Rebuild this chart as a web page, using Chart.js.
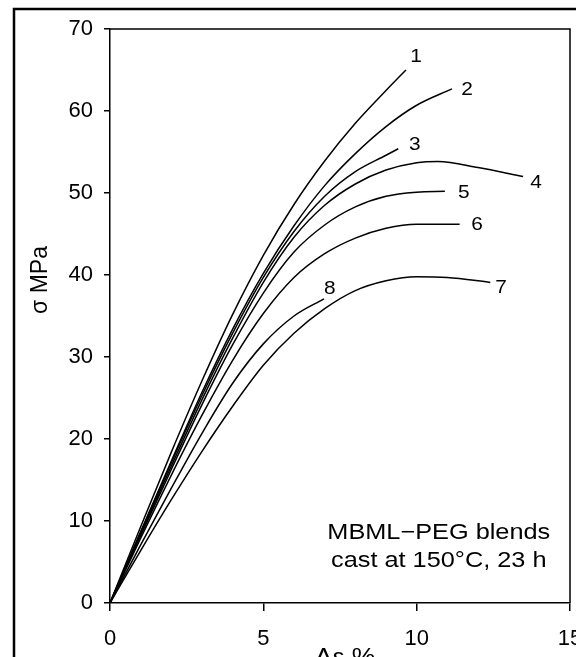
<!DOCTYPE html>
<html>
<head>
<meta charset="utf-8">
<script src="https://cdn.jsdelivr.net/npm/chart.js@4.4.1/dist/chart.umd.min.js"></script>
<style>
html,body{margin:0;padding:0;background:#fff;overflow:hidden;width:576px;height:657px}
#wrap{position:absolute;left:0;top:0;width:620px;height:700px}
</style>
</head>
<body>
<div id="wrap"><canvas id="c" width="620" height="700"></canvas></div>
<script>
// ---- data (strain %, stress MPa) ----
const strain1 = [0, 1, 2, 3, 4, 5, 6, 7, 8, 9, 9.65];
const stress1 = [0, 9.3, 18.4, 27.1, 35.2, 42.4, 48.6, 53.9, 58.5, 62.5, 65.0];
const strain2 = [0, 1, 2, 3, 4, 5, 6, 7, 8, 9, 10, 11.15];
const stress2 = [0, 8.7, 17.3, 25.7, 33.4, 40.2, 46.0, 50.9, 54.8, 58.1, 60.7, 62.7];
const strain3 = [0, 1, 2, 3, 4, 5, 6, 7, 8, 9, 9.4];
const stress3 = [0, 8.6, 17.1, 25.3, 32.9, 39.7, 45.3, 49.6, 52.6, 54.6, 55.4];
const strain4 = [0, 1, 2, 3, 4, 5, 6, 7, 8, 9, 10, 10.7, 12, 13.47];
const stress4 = [0, 8.4, 16.7, 24.8, 32.3, 39.1, 44.6, 48.5, 51.1, 52.8, 53.7, 53.85, 53.1, 52.0];
const strain5 = [0, 1, 2, 3, 4, 5, 6, 7, 8, 9, 10, 10.92];
const stress5 = [0, 8.2, 16.3, 24.2, 31.5, 37.8, 42.8, 46.1, 48.3, 49.6, 50.1, 50.2];
const strain6 = [0, 1, 2, 3, 4, 5, 6, 7, 8, 9, 10, 11.4];
const stress6 = [0, 7.9, 15.6, 22.9, 29.6, 35.3, 39.7, 42.6, 44.5, 45.7, 46.2, 46.2];
const strain7 = [0, 1, 2, 3, 4, 5, 6, 7, 8, 9, 10, 11, 12.4];
const stress7 = [0, 6.4, 12.6, 18.5, 24.0, 29.0, 32.9, 35.9, 38.1, 39.3, 39.8, 39.7, 39.1];
const strain8 = [0, 1, 2, 3, 4, 5, 6, 6.98];
const stress8 = [0, 7.1, 14.0, 20.7, 26.8, 31.6, 35.0, 37.1];

const curveNames = ['1', '2', '3', '4', '5', '6', '7', '8'];
const xTickValues = [0, 5, 10, 15];
const yTickValues = [0, 10, 20, 30, 40, 50, 60, 70];
const xTitle = 'Δε %';
const yTitle = 'σ MPa';
const noteLines = ['MBML\u2212PEG blends', 'cast at 150\u00B0C, 23 h'];

// ---- layout / styling (kept apart from the data) ----
const FONT = "'Liberation Sans', Arial, Helvetica, sans-serif";
const curveLabelAnchors = [[9.98, 66.6], [11.64, 62.6], [9.94, 55.85], [13.89, 51.2],
                           [11.54, 50.0], [11.97, 46.1], [12.75, 38.4], [7.17, 38.3]];
const noteAnchor = {x: 10.72, y1: 7.8, y2: 4.4};

const strains = [strain1, strain2, strain3, strain4, strain5, strain6, strain7, strain8];
const stresses = [stress1, stress2, stress3, stress4, stress5, stress6, stress7, stress8];

const datasets = curveNames.map((name, i) => ({
  label: 'Curve ' + name,
  data: strains[i].map((x, j) => ({x: x, y: stresses[i][j]})),
  showLine: true,
  borderColor: '#000',
  borderWidth: 1.5,
  pointRadius: 0,
  fill: false,
  cubicInterpolationMode: 'monotone'
}));

function stretchedText(ctx, txt, x, y, size, sx, align, baseline) {
  ctx.save();
  ctx.font = size + 'px ' + FONT;
  ctx.textAlign = align;
  ctx.textBaseline = baseline;
  ctx.translate(x, y);
  ctx.scale(sx, 1);
  ctx.fillText(txt, 0, 0);
  ctx.restore();
}

const decor = {
  id: 'decor',
  afterDraw(chart) {
    const ctx = chart.ctx;
    const a = chart.chartArea;
    const xs = chart.scales.x, ys = chart.scales.y;
    ctx.save();
    // plot box (top and right sides)
    ctx.strokeStyle = '#000';
    ctx.lineWidth = 1.5;
    ctx.beginPath();
    ctx.moveTo(a.left, a.top);
    ctx.lineTo(a.right, a.top);
    ctx.lineTo(a.right, a.bottom);
    ctx.stroke();
    // outer frame
    ctx.lineWidth = 2.5;
    ctx.strokeRect(14, 9, 700, 800);
    ctx.fillStyle = '#000';
    // curve labels
    curveNames.forEach((n, i) => {
      const p = curveLabelAnchors[i];
      stretchedText(ctx, n, xs.getPixelForValue(p[0]), ys.getPixelForValue(p[1]), 19, 1.1, 'center', 'middle');
    });
    // note text
    const nx = xs.getPixelForValue(noteAnchor.x);
    stretchedText(ctx, noteLines[0], nx, ys.getPixelForValue(noteAnchor.y1), 22, 1.15, 'center', 'alphabetic');
    stretchedText(ctx, noteLines[1], nx, ys.getPixelForValue(noteAnchor.y2), 22, 1.15, 'center', 'alphabetic');
    // y title
    ctx.save();
    ctx.translate(41, 280);
    ctx.rotate(-Math.PI / 2);
    ctx.font = '23px ' + FONT;
    ctx.textAlign = 'center';
    ctx.textBaseline = 'middle';
    ctx.fillText(yTitle, 0, 0);
    ctx.restore();
    // x title (cut off at the bottom like the reference)
    stretchedText(ctx, xTitle, (a.left + a.right) / 2 + 5, 665, 23, 1.15, 'center', 'alphabetic');
    ctx.restore();
  }
};

new Chart(document.getElementById('c'), {
  type: 'scatter',
  data: {datasets: datasets},
  options: {
    responsive: false,
    animation: false,
    devicePixelRatio: 1,
    layout: {padding: {left: 0, top: 29, right: 50, bottom: 0}},
    plugins: {legend: {display: false}, tooltip: {enabled: false}},
    scales: {
      x: {
        type: 'linear', min: 0, max: 15,
        afterBuildTicks(s) { s.ticks = xTickValues.map(v => ({value: v})); },
        afterFit(s) { s.height = 97; },
        grid: {drawOnChartArea: false, drawTicks: true, tickLength: 8, color: '#000', lineWidth: 1.5},
        border: {display: true, color: '#000', width: 1.5},
        ticks: {color: '#000', font: {family: FONT, size: 22}, padding: 15, maxRotation: 0, autoSkip: false}
      },
      y: {
        type: 'linear', min: 0, max: 70,
        afterBuildTicks(s) { s.ticks = yTickValues.map(v => ({value: v})); },
        afterFit(s) { s.width = 110; },
        grid: {drawOnChartArea: false, drawTicks: true, tickLength: 6, color: '#000', lineWidth: 1.5},
        border: {display: true, color: '#000', width: 1.5},
        ticks: {color: '#000', font: {family: FONT, size: 22}, padding: 11, autoSkip: false}
      }
    }
  },
  plugins: [decor]
});
</script>
</body>
</html>
